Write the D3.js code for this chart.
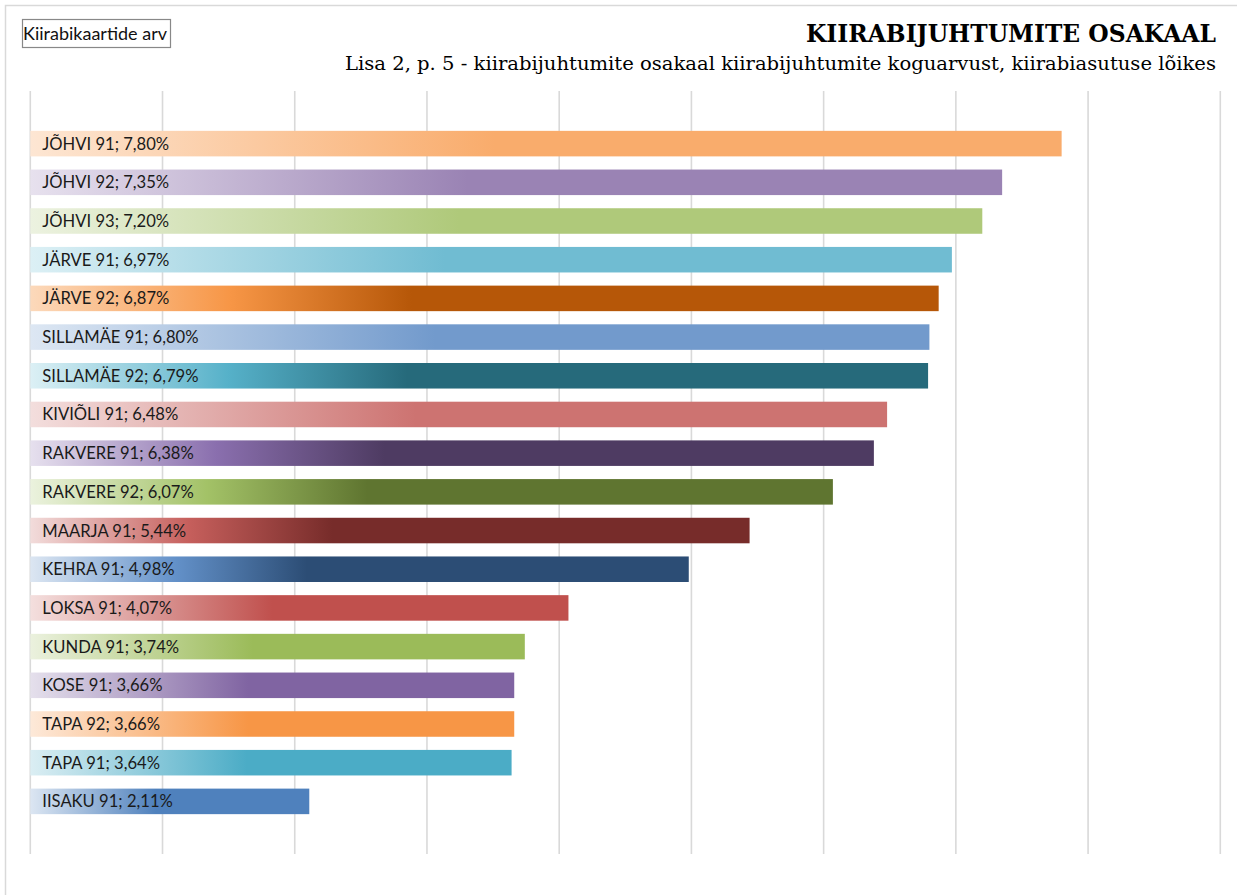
<!DOCTYPE html>
<html lang="et">
<head>
<meta charset="utf-8">
<title>KIIRABIJUHTUMITE OSAKAAL</title>
<script src="https://d3js.org/d3.v7.min.js"></script>
<style>
  body { margin: 0; background: #fff; }
  svg { display: block; }
</style>
</head>
<body>
<div id="chart"></div>
<script>
// andmed (kiirabiasutus; osakaal %)
var labels = ["JÕHVI 91", "JÕHVI 92", "JÕHVI 93", "JÄRVE 91", "JÄRVE 92", "SILLAMÄE 91",
              "SILLAMÄE 92", "KIVIÕLI 91", "RAKVERE 91", "RAKVERE 92", "MAARJA 91", "KEHRA 91",
              "LOKSA 91", "KUNDA 91", "KOSE 91", "TAPA 92", "TAPA 91", "IISAKU 91"];
var values = [7.80, 7.35, 7.20, 6.97, 6.87, 6.80, 6.79, 6.48, 6.38, 6.07, 5.44, 4.98,
              4.07, 3.74, 3.66, 3.66, 3.64, 2.11];
// gradient colours: left tint, middle (optional), solid end
var startColors = ["#fde6d3", "#e7e1ee", "#ecf2e0", "#dcf0f5", "#fcd9bb", "#dde7f3",
                   "#dcf0f5", "#f3dedd", "#e6e0ee", "#ebf2de", "#f2dcdb", "#dce6f2",
                   "#f4dfde", "#ebf1de", "#e5e0ec", "#fde9d9", "#dbeef3", "#dce6f2"];
var midColors = [null, null, null, null, "#f79646", null,
                 "#56b1c9", null, "#8a6fae", "#a3c267", "#c65f5c", "#6391c9",
                 null, null, null, null, null, null];
var endColors = ["#f9ac6c", "#9a83b4", "#afc97a", "#70bcd2", "#b65708", "#729acc",
                 "#266a7b", "#cd7371", "#4e3b62", "#5f7530", "#772c2a", "#2c4d75",
                 "#c0504d", "#9bbb59", "#8064a2", "#f79646", "#4bacc6", "#4f81bd"];
var ticks = [0, 1, 2, 3, 4, 5, 6, 7, 8, 9];

var W = 1237, H = 895;
var svg = d3.select("#chart").append("svg")
    .attr("width", W).attr("height", H);

// chart frame
svg.append("rect")
    .attr("x", 5.5).attr("y", 5.5)
    .attr("width", W + 20).attr("height", H + 20)
    .attr("fill", "#fff").attr("stroke", "#d9d9d9").attr("stroke-width", 1.5);

var x = d3.scaleLinear().domain([0, 9]).range([30.3, 1220.3]);
var y = d3.scaleBand().domain(labels).range([91, 854])
    .paddingInner(0.34).paddingOuter(1.03);

// gridlines
svg.append("g").selectAll("line")
    .data(ticks)
    .join("line")
    .attr("x1", d => x(d)).attr("x2", d => x(d))
    .attr("y1", 91).attr("y2", 854)
    .attr("stroke", "#d9d9d9").attr("stroke-width", 1.6);

// gradients
var defs = svg.append("defs");
labels.forEach(function(l, i) {
  var g = defs.append("linearGradient")
      .attr("id", "grad" + i)
      .attr("x1", "0%").attr("x2", "100%").attr("y1", "0%").attr("y2", "0%");
  g.append("stop").attr("offset", "0%").attr("stop-color", startColors[i]);
  if (midColors[i]) {
    g.append("stop").attr("offset", "22%").attr("stop-color", midColors[i]);
    g.append("stop").attr("offset", "42%").attr("stop-color", endColors[i]);
  } else {
    g.append("stop").attr("offset", "45%").attr("stop-color", endColors[i]);
  }
  g.append("stop").attr("offset", "100%").attr("stop-color", endColors[i]);
});

// bars
svg.append("g").selectAll("rect")
    .data(values)
    .join("rect")
    .attr("x", x(0))
    .attr("y", (d, i) => y(labels[i]))
    .attr("width", d => x(d) - x(0))
    .attr("height", y.bandwidth())
    .attr("fill", (d, i) => "url(#grad" + i + ")");

// data labels
svg.append("g").selectAll("text")
    .data(values)
    .join("text")
    .attr("x", x(0) + 12)
    .attr("y", (d, i) => y(labels[i]) + y.bandwidth() / 2)
    .attr("dy", "0.36em")
    .attr("font-family", "Lato, 'Open Sans', sans-serif")
    .attr("font-size", 16.6)
    .attr("fill", "#1a1a1a")
    .text((d, i) => labels[i] + "; " + d.toFixed(2).replace(".", ",") + "%");

// legend box
svg.append("rect")
    .attr("x", 22.5).attr("y", 19.5).attr("width", 148).attr("height", 28)
    .attr("fill", "#fff").attr("stroke", "#888").attr("stroke-width", 1.2);
svg.append("text")
    .attr("x", 23).attr("y", 40)
    .attr("font-family", "Lato, 'Open Sans', sans-serif")
    .attr("font-size", 18)
    .attr("fill", "#111")
    .text("Kiirabikaartide arv");

// titles
svg.append("text")
    .attr("x", 1216).attr("y", 42)
    .attr("text-anchor", "end")
    .attr("font-family", "'DejaVu Serif', 'Liberation Serif', serif")
    .attr("font-weight", "bold")
    .attr("font-size", 24)
    .attr("textLength", 410).attr("lengthAdjust", "spacingAndGlyphs")
    .text("KIIRABIJUHTUMITE OSAKAAL");
svg.append("text")
    .attr("x", 1216).attr("y", 70)
    .attr("text-anchor", "end")
    .attr("font-family", "'DejaVu Serif', 'Liberation Serif', serif")
    .attr("font-size", 19)
    .attr("textLength", 871).attr("lengthAdjust", "spacingAndGlyphs")
    .text("Lisa 2, p. 5 - kiirabijuhtumite osakaal kiirabijuhtumite koguarvust, kiirabiasutuse lõikes");
</script>
</body>
</html>
